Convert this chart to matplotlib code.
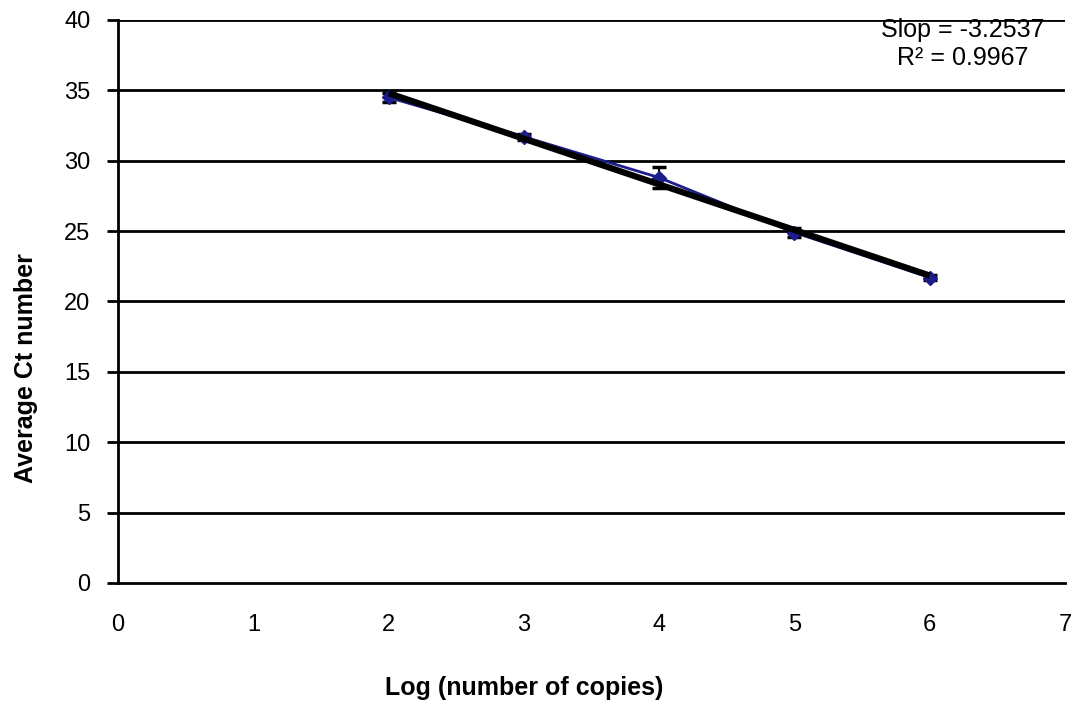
import numpy as np
import matplotlib
matplotlib.use("Agg")
import matplotlib.pyplot as plt

log_copies = [2, 3, 4, 5, 6]
avg_ct = [34.5, 31.7, 28.8, 24.9, 21.7]
ct_err = [0.3, 0.2, 0.75, 0.3, 0.15]
x_ticks = [0, 1, 2, 3, 4, 5, 6, 7]
y_ticks = [0, 5, 10, 15, 20, 25, 30, 35, 40]
annot = "Slop = -3.2537\nR² = 0.9967"

plt.rcParams['font.family'] = ['Liberation Sans', 'DejaVu Sans']

fig = plt.figure(figsize=(10.79, 7.04), dpi=100)
ax = fig.add_axes([0.1094, 0.1719, 0.8777, 0.7997])

for y in y_ticks[1:]:
    ax.axhline(y, color='black', lw=2, zorder=1)

ax.errorbar(log_copies, avg_ct, yerr=ct_err, fmt='none', ecolor='black',
            elinewidth=1.5, capsize=5, capthick=2.5, zorder=3)
ax.plot(log_copies, avg_ct, color='#1c1c8c', lw=2, marker='D', ms=7,
        mec='#1c1c8c', mfc='#1c1c8c', zorder=4)

coef = np.polyfit(log_copies, avg_ct, 1)
xf = np.array([log_copies[0], log_copies[-1]])
ax.plot(xf, np.polyval(coef, xf), color='black', lw=4.5, zorder=5,
        solid_capstyle='butt')

ax.set_xlim(0, 7)
ax.set_ylim(0, 40)
ax.set_xticks(x_ticks)
ax.set_yticks(y_ticks)
ax.tick_params(axis='x', length=0, pad=22, labelsize=17)
ax.tick_params(axis='y', length=8, width=2, pad=12, labelsize=17)
for s in ['top', 'right']:
    ax.spines[s].set_visible(False)
ax.spines['left'].set_linewidth(2)
ax.spines['bottom'].set_linewidth(2)

ax.text(0.892, 0.957, annot, transform=ax.transAxes, ha='center', va='center',
        fontsize=18, linespacing=1.2)

fig.text(0.024, 0.477, "Average Ct number", rotation=90, ha='center', va='center',
         fontsize=18, fontweight='bold')
fig.text(0.486, 0.0227, "Log (number of copies)", ha='center', va='center',
         fontsize=18, fontweight='bold')

fig.savefig("out.png", dpi=100)
